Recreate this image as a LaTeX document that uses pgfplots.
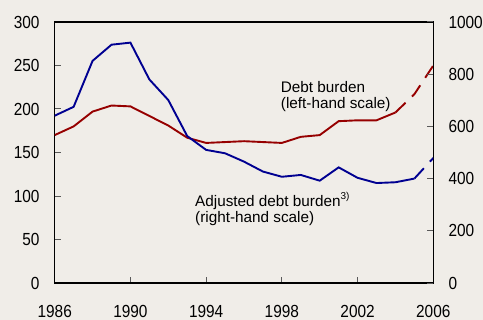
\documentclass[border=0pt]{standalone}
\usepackage{fontspec}
\setmainfont{Liberation Sans}
\newfontfamily\tickfont{Liberation Sans}[FakeStretch=0.88]
\usepackage{pgfplots}
\pgfplotsset{compat=1.18}
\definecolor{bg}{RGB}{240,237,232}
\definecolor{dred}{RGB}{150,0,0}
\definecolor{dblue}{RGB}{0,0,145}
\begin{document}
\begin{tikzpicture}
\fill[bg] (-54.7bp,-37bp) rectangle (428.3bp,283bp);
\useasboundingbox (-54.7bp,-37bp) rectangle (428.3bp,283bp);
\pgfplotsset{
  base/.style={
    scale only axis, width=378.6bp, height=261bp,
    xmin=1986, xmax=2006,
    /pgf/number format/assume math mode=true,
    /pgf/number format/1000 sep={},
    tick align=inside,
    major tick length=6bp,
    every tick/.style={line width=1bp, color=black!65},
    axis line style={line width=1.2bp, black},
    ticklabel style={font=\tickfont\fontsize{17.5bp}{18bp}\selectfont, text=black},
  }
}
\begin{axis}[base,
  ymin=0, ymax=300,
  xtick={1986,1990,1994,1998,2002,2006},
  ytick={0,50,100,150,200,250,300},
  xtick pos=left, ytick pos=left,
  xticklabel style={anchor=north, inner sep=0pt, yshift=-22bp},
  yticklabel style={anchor=east, inner sep=0pt, xshift=-15bp},
]
\addplot[dred, line width=1.9bp] coordinates {
(1986,170) (1987,180) (1988,197) (1989,204) (1990,203) (1991,192) (1992,181)
(1993,167) (1994,161) (1995,162) (1996,163) (1997,162) (1998,161) (1999,168)
(2000,170) (2001,186) (2002,187) (2003,187) (2004,196)};
\addplot[dred, line width=1.9bp, dash pattern=on 14bp off 9bp] coordinates {
(2004,196) (2005,217) (2006,250)};
\node[anchor=north west, inner sep=0pt, align=left,
  font=\fontsize{15.3bp}{15.5bp}\selectfont]
  at (axis cs:1997.94,231.4) {Debt burden\\(left-hand scale)};
\node[anchor=north west, inner sep=0pt, align=left,
  font=\fontsize{15.3bp}{16.5bp}\selectfont]
  at (axis cs:1993.41,104.9) {Adjusted debt burden\raisebox{0.45em}{\fontsize{10bp}{10bp}\selectfont 3)}\\(right-hand scale)};
\end{axis}
\begin{axis}[base,
  ymin=0, ymax=1000,
  ytick={0,200,400,600,800,1000},
  axis x line=none,
  axis y line*=right,
  yticklabel style={anchor=west, inner sep=0pt, xshift=15bp},
]
\addplot[dblue, line width=1.9bp] coordinates {
(1986,641) (1987,675) (1988,851) (1989,913) (1990,921) (1991,780) (1992,701)
(1993,563) (1994,510) (1995,497) (1996,465) (1997,427) (1998,407) (1999,414)
(2000,392) (2001,443) (2002,403) (2003,383) (2004,386) (2005,400)};
\addplot[dblue, line width=1.9bp, dash pattern=on 14bp off 9bp] coordinates {
(2005,400) (2006,479)};
\end{axis}
\end{tikzpicture}
\end{document}
